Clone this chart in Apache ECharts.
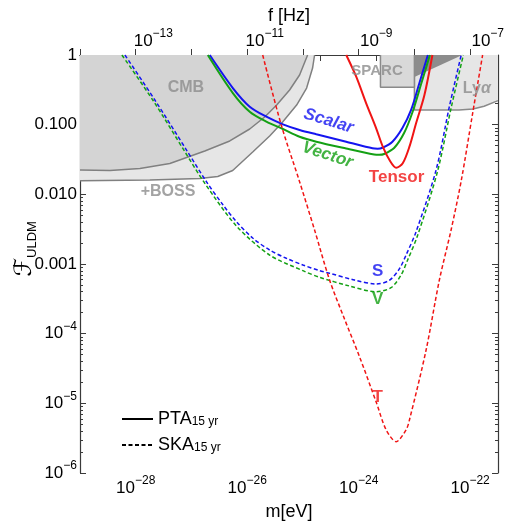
<!DOCTYPE html>
<html><head><meta charset="utf-8">
<script src="https://cdn.jsdelivr.net/npm/echarts@6/dist/echarts.min.js"></script>
<style>html,body{margin:0;padding:0;background:#fff}#c{width:505px;height:524px}</style>
</head><body><div id="c"></div>
<script>
// ---- data: log10(m / eV) and log10(F_ULDM) ----
const scalarPTA_logm = [-26.672, -26.254, -25.955, -25.656, -25.359, -25.06, -24.76, -24.224, -23.752, -23.66, -23.573, -23.394, -23.215, -23.059, -22.910, -22.758];
const scalarPTA_logF = [0, -0.478, -0.742, -0.886, -0.995, -1.076, -1.138, -1.244, -1.339, -1.345, -1.331, -1.244, -1.048, -0.789, -0.402, 0];

const vectorPTA_logm = [-26.707, -26.254, -25.955, -25.656, -25.359, -25.06, -24.76, -24.224, -23.722, -23.63, -23.543, -23.364, -23.185, -23.033, -22.874, -22.722];
const vectorPTA_logF = [0, -0.550, -0.814, -0.957, -1.062, -1.173, -1.244, -1.342, -1.428, -1.433, -1.421, -1.335, -1.12, -0.818, -0.402, 0];

const tensorPTA_logm = [-24.223, -24.044, -23.865, -23.686, -23.567, -23.447, -23.327, -23.209, -23.089, -22.97, -22.82, -22.677];
const tensorPTA_logF = [0, -0.311, -0.693, -1.052, -1.316, -1.507, -1.618, -1.554, -1.316, -0.980, -0.574, 0];

const scalarSKA_logm = [-28.194, -27.657, -27.089, -26.731, -26.433, -26.193, -25.896, -25.597, -25.298, -25.0, -24.701, -24.522, -24.074, -23.686, -23.45, -23.27, -23.149, -22.97, -22.611, -22.373, -22.16];
const scalarSKA_logF = [0, -0.646, -1.364, -1.819, -2.153, -2.393, -2.631, -2.799, -2.918, -3.014, -3.096, -3.133, -3.23, -3.287, -3.235, -3.07, -2.87, -2.536, -1.651, -0.742, 0];

const vectorSKA_logm = [-28.248, -27.683, -27.119, -26.761, -26.193, -25.597, -25.0, -24.701, -24.164, -23.686, -23.42, -23.24, -23.125, -22.946, -22.588, -22.337, -22.122];
const vectorSKA_logF = [0, -0.66, -1.388, -1.842, -2.454, -2.871, -3.096, -3.191, -3.316, -3.398, -3.34, -3.16, -2.95, -2.598, -1.679, -0.746, 0];

const tensorSKA_logm = [-25.722, -25.389, -25.06, -24.791, -24.522, -24.254, -23.985, -23.686, -23.507, -23.327, -23.149, -23.089, -22.79, -22.552, -22.342, -22.157, -21.955, -21.776];
const tensorSKA_logF = [0, -1.005, -1.819, -2.512, -3.23, -3.79, -4.33, -4.981, -5.38, -5.551, -5.38, -5.239, -4.234, -3.23, -2.512, -1.794, -0.837, 0];

// excluded regions (boundary; region extends up to F = 1)
const cmb_logm = [-29.0, -28.463, -27.925, -27.388, -26.761, -26.313, -25.955, -25.686, -25.471, -25.239, -25.06, -24.916];
const cmb_logF = [-1.651, -1.658, -1.629, -1.557, -1.378, -1.234, -1.062, -0.89, -0.718, -0.502, -0.287, 0];

const boss_logm = [-29.0, -27.746, -26.851, -26.528, -26.26, -25.901, -25.597, -25.364, -25.113, -24.934, -24.827, -24.791];
const boss_logF = [-1.804, -1.794, -1.773, -1.744, -1.658, -1.392, -1.163, -0.962, -0.718, -0.474, -0.187, 0];

const lya_logm = [-23.0, -23.0, -22.2, -21.95, -21.75, -21.5];
const lya_logF = [0, -0.789, -0.789, -0.775, -0.735, -0.655];

const sparc_logm = [-23.609, -23.609, -23.0, -23.0];
const sparc_logF = [0, -0.464, -0.464, 0];

const dark_logm = [-23.0, -23.0, -22.14];
const dark_logF = [0, -0.316, 0];

// ---- axes / ticks ----
const xTickValues = [-29, -28, -27, -26, -25, -24, -23, -22];
const xTickLabelExps = [-28, -26, -24, -22];
const fTickExps = [-14, -13, -12, -11, -10, -9, -8, -7];
const fTickLabelExps = [-13, -11, -9, -7];
const yTickValues = [-6, -5, -4, -3, -2, -1, 0];
const yTickText = ['10^-6', '10^-5', '10^-4', '0.001', '0.010', '0.100', '1'];

const H_EV_S = 4.135667696e-15;               // Planck constant in eV s
const F_OFFSET = Math.log10(2 / H_EV_S);      // f = 2 m / h

const yMinor = [];
for (let d = -6; d < 0; d++) for (let k = 2; k <= 9; k++) yMinor.push(d + Math.log10(k));

const FONT = '"Liberation Sans", Arial, sans-serif';
const AX = '#3a3a3a';
const BLUE = '#1414f0', GREEN = '#14a014', RED = '#f01414', GTXT = '#8c8c8c';

const pairs = (xs, ys) => xs.map((x, i) => [x, ys[i]]);
const supLabel = e => '{b|10}{s|' + (e < 0 ? '\u2212' + (-e) : e) + '}';
const richTick = {
  b: { fontSize: 17, lineHeight: 26, fontFamily: FONT, color: '#000' },
  s: { fontSize: 12, lineHeight: 10, verticalAlign: 'top', fontFamily: FONT, color: '#000' }
};

function regionSeries(name, xs, ys, fill, stroke, z) {
  return {
    name, type: 'line', data: pairs(xs, ys), symbol: 'none', silent: true, z,
    lineStyle: { color: stroke, width: stroke ? 1.5 : 0 },
    areaStyle: { color: fill, opacity: 1, origin: 'end' }
  };
}
function curve(name, xs, ys, color, dashed) {
  return {
    name, type: 'line', data: pairs(xs, ys), symbol: 'none', smooth: 0.3, z: 5,
    lineStyle: { color, width: dashed ? 1.5 : 2, type: dashed ? [4, 2.5] : 'solid' }
  };
}

const annotations = [
  { text: 'CMB', at: [-27.10, -0.474], color: GTXT, size: 16 },
  { text: '+BOSS', at: [-27.42, -1.966], color: GTXT, size: 16 },
  { text: 'SPARC', at: [-23.67, -0.230], color: GTXT, size: 15 },
  { text: '{n|Ly}{i|α}', at: [-21.88, -0.481], color: GTXT, size: 16 },
  { text: 'Scalar', at: [-24.54, -0.947], color: BLUE, size: 17, italic: true, rotate: -17 },
  { text: 'Vector', at: [-24.56, -1.435], color: GREEN, size: 17, italic: true, rotate: -18 },
  { text: 'Tensor', at: [-23.32, -1.751], color: RED, size: 17 },
  { text: 'S', at: [-23.66, -3.11], color: BLUE, size: 17 },
  { text: 'V', at: [-23.66, -3.50], color: GREEN, size: 17 },
  { text: 'T', at: [-23.66, -4.91], color: RED, size: 17 }
];

const annoSeries = {
  type: 'scatter', silent: true, z: 10, symbolSize: 1,
  itemStyle: { color: 'rgba(0,0,0,0)' },
  data: annotations.map(a => ({
    value: a.at,
    label: {
      show: true, position: 'inside', formatter: a.text, color: a.color,
      fontSize: a.size, fontWeight: 'bold', fontStyle: a.italic ? 'italic' : 'normal',
      fontFamily: FONT, rotate: a.rotate || 0,
      rich: {
        n: { fontSize: a.size, fontWeight: 'bold', color: a.color, fontFamily: FONT },
        i: { fontSize: a.size, fontWeight: 'bold', fontStyle: 'italic', color: a.color, fontFamily: FONT }
      }
    }
  }))
};

const baseY = { type: 'value', min: -6, max: 0, splitLine: { show: false } };
const baseX = { type: 'value', min: -29, max: -21.5, splitLine: { show: false } };

const option = {
  animation: false,
  backgroundColor: '#fff',
  textStyle: { fontFamily: FONT },
  grid: { left: 80, top: 55, right: 7, bottom: 51, containLabel: false, outerBoundsMode: 'none' },
  xAxis: [
    Object.assign({}, baseX, {
      position: 'bottom',
      name: 'm[eV]', nameLocation: 'middle', nameGap: 30, nameMoveOverlap: false,
      nameTextStyle: { fontSize: 18, color: '#000', fontFamily: FONT },
      axisLine: { show: true, lineStyle: { color: AX, width: 1.2 } },
      axisTick: { show: true, inside: true, length: 6, customValues: xTickValues, lineStyle: { color: AX } },
      axisLabel: { show: true, margin: 2, customValues: xTickLabelExps, formatter: v => supLabel(Math.round(v)), rich: richTick }
    }),
    Object.assign({}, baseX, {
      position: 'top',
      name: 'f [Hz]', nameLocation: 'middle', nameGap: 30, nameMoveOverlap: false,
      nameTextStyle: { fontSize: 18, color: '#000', fontFamily: FONT },
      axisLine: { show: true, lineStyle: { color: AX, width: 1.2 } },
      axisTick: { show: true, inside: true, length: 6, customValues: fTickExps.map(e => e - F_OFFSET), lineStyle: { color: AX } },
      axisLabel: { show: true, margin: 1, customValues: fTickLabelExps.map(e => e - F_OFFSET), formatter: v => supLabel(Math.round(v + F_OFFSET)), rich: richTick }
    })
  ],
  yAxis: [
    Object.assign({}, baseY, {
      position: 'left',
      name: '{f|ℱ}{u|ULDM}', nameLocation: 'middle', nameGap: 41, nameRotate: 90, nameMoveOverlap: false,
      nameTextStyle: {
        padding: [0, 0, 0, 30],
        rich: {
          f: { fontSize: 24, fontStyle: 'italic', fontFamily: '"DejaVu Serif", "DejaVu Sans", serif', color: '#000', lineHeight: 28 },
          u: { fontSize: 13, fontFamily: FONT, color: '#000', verticalAlign: 'bottom', lineHeight: 12 }
        }
      },
      axisLine: { show: true, lineStyle: { color: AX, width: 1.2 } },
      axisTick: { show: true, inside: true, length: 6, customValues: yTickValues, lineStyle: { color: AX } },
      axisLabel: {
        show: true, margin: 3, customValues: yTickValues,
        formatter: v => {
          const t = yTickText[yTickValues.indexOf(Math.round(v))];
          if (t.startsWith('10^')) return supLabel(parseInt(t.slice(3), 10));
          return '{b|' + t + '}';
        },
        rich: richTick
      }
    }),
    Object.assign({}, baseY, {
      position: 'left', axisLine: { show: false }, axisLabel: { show: false },
      axisTick: { show: true, inside: true, length: 3, customValues: yMinor, lineStyle: { color: AX } }
    }),
    Object.assign({}, baseY, {
      position: 'right', axisLine: { show: true, lineStyle: { color: AX, width: 1.2 } }, axisLabel: { show: false },
      axisTick: { show: true, inside: true, length: 6, customValues: yTickValues, lineStyle: { color: AX } }
    }),
    Object.assign({}, baseY, {
      position: 'right', axisLine: { show: false }, axisLabel: { show: false },
      axisTick: { show: true, inside: true, length: 3, customValues: yMinor, lineStyle: { color: AX } }
    })
  ],
  legend: {
    data: ['PTA', 'SKA'], orient: 'vertical', left: 116, top: 405,
    itemWidth: 31, itemHeight: 12, itemGap: 8, selectedMode: false,
    itemStyle: { opacity: 0 },
    formatter: n => n + '{sub|15 yr}',
    textStyle: {
      fontSize: 18, color: '#000', fontFamily: FONT,
      rich: { sub: { fontSize: 12, color: '#000', fontFamily: FONT, verticalAlign: 'bottom', lineHeight: 9 } }
    }
  },
  series: [
    regionSeries('+BOSS', boss_logm, boss_logF, '#e6e6e6', '#808080', 1),
    regionSeries('CMB', cmb_logm, cmb_logF, '#d4d4d4', '#808080', 2),
    regionSeries('Lyα', lya_logm, lya_logF, '#e6e6e6', '#8a8a8a', 1),
    regionSeries('SPARC', sparc_logm, sparc_logF, '#d9d9d9', '#8a8a8a', 2),
    regionSeries('other', dark_logm, dark_logF, '#8c8c8c', null, 3),
    curve('Scalar PTA', scalarPTA_logm, scalarPTA_logF, BLUE, false),
    curve('Vector PTA', vectorPTA_logm, vectorPTA_logF, GREEN, false),
    curve('Tensor PTA', tensorPTA_logm, tensorPTA_logF, RED, false),
    curve('Scalar SKA', scalarSKA_logm, scalarSKA_logF, BLUE, true),
    curve('Vector SKA', vectorSKA_logm, vectorSKA_logF, GREEN, true),
    curve('Tensor SKA', tensorSKA_logm, tensorSKA_logF, RED, true),
    { name: 'PTA', type: 'line', data: [], symbol: 'none', itemStyle: { color: '#000' }, lineStyle: { color: '#000', width: 1.8, type: 'solid' } },
    { name: 'SKA', type: 'line', data: [], symbol: 'none', itemStyle: { color: '#000' }, lineStyle: { color: '#000', width: 1.5, type: [4, 2.5] } },
    annoSeries
  ]
};

const chart = echarts.init(document.getElementById('c'), null, { renderer: 'canvas' });
chart.setOption(option);
</script>
</body></html>
